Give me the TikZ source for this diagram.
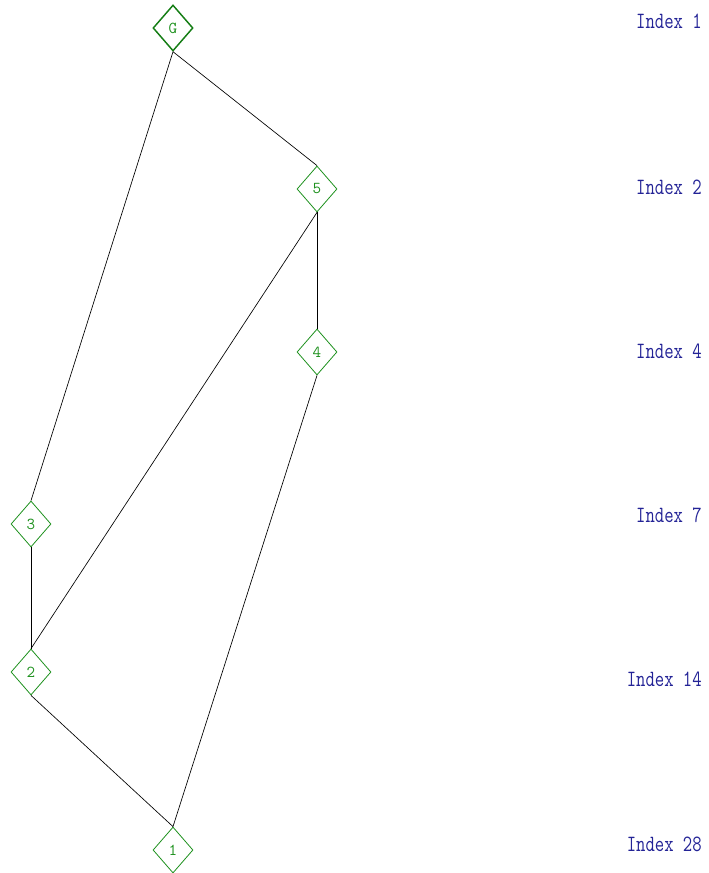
\documentclass[tikz,border=0pt]{standalone}
\usepackage{fontspec}
\usetikzlibrary{shapes.geometric}
\definecolor{ngreen}{RGB}{30,145,30}
\definecolor{gdark}{RGB}{20,125,20}
\definecolor{idxblue}{RGB}{35,35,150}
\begin{document}
\begin{tikzpicture}[x=0.75pt,y=-0.75pt,
 vtx/.style={diamond,draw=ngreen,text=ngreen,minimum width=30pt,minimum height=34.5pt,inner sep=0pt,font=\ttfamily\fontsize{12.5}{12.5}\selectfont,line width=0.6pt},
 gvtx/.style={vtx,draw=gdark,text=ngreen,line width=1.1pt},
 idx/.style={anchor=east,text=idxblue,inner sep=0pt,font=\ttfamily\fontsize{17.5}{17.5}\selectfont},
 edge/.style={draw=black,line width=0.5pt}]
\useasboundingbox (0,0) rectangle (709,873);
\node[gvtx] (G) at (173,28) {G};
\node[vtx] (v5) at (317,189) {5};
\node[vtx] (v4) at (317,352) {4};
\node[vtx] (v3) at (31,524) {3};
\node[vtx] (v2) at (31,672) {2};
\node[vtx] (v1) at (173,850) {1};
\draw[edge] (G.south) -- (v5.north);
\draw[edge] (G.south) -- (v3.north);
\draw[edge] (v5.south) -- (v4.north);
\draw[edge] (v5.south) -- (v2.north);
\draw[edge] (v4.south) -- (v1.north);
\draw[edge] (v3.south) -- (v2.north);
\draw[edge] (v2.south) -- (v1.north);
\node[idx] (i1) at (702,21) {\scalebox{0.78}[1]{Index 1}};
\node[idx] (i2) at (702,187) {\scalebox{0.78}[1]{Index 2}};
\node[idx] (i4) at (702,351) {\scalebox{0.78}[1]{Index 4}};
\node[idx] (i7) at (702,515) {\scalebox{0.78}[1]{Index 7}};
\node[idx] (i14) at (702,679) {\scalebox{0.78}[1]{Index 14}};
\node[idx] (i28) at (702,844) {\scalebox{0.78}[1]{Index 28}};
\end{tikzpicture}
\end{document}
